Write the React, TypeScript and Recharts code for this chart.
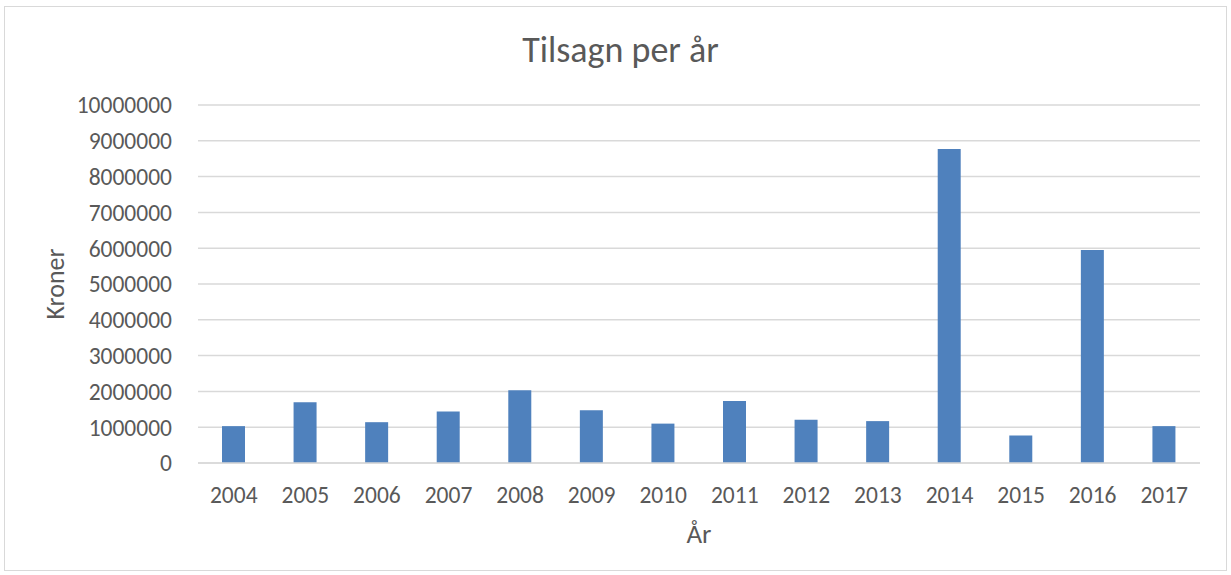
import { BarChart, Bar, XAxis, YAxis, CartesianGrid } from "recharts";

const years = [
  "2004", "2005", "2006", "2007", "2008", "2009", "2010",
  "2011", "2012", "2013", "2014", "2015", "2016", "2017",
];

const kroner = [
  1030000, 1700000, 1140000, 1440000, 2030000, 1470000, 1100000,
  1730000, 1210000, 1170000, 8770000, 770000, 5950000, 1030000,
];

const yTicks = [
  0, 1000000, 2000000, 3000000, 4000000, 5000000,
  6000000, 7000000, 8000000, 9000000, 10000000,
];

const data = years.map((year, i) => ({ year, value: kroner[i] }));

const font = "Calibri, Carlito, Lato, sans-serif";
const textColor = "#595959";

export default function App() {
  return (
    <div style={{ position: "absolute", left: 0, top: 0, width: 1231, height: 575, background: "#fff", fontFamily: font }}>
      <div
        style={{
          position: "absolute",
          left: 4,
          top: 6,
          width: 1223,
          height: 565,
          border: "1px solid #d9d9d9",
          boxSizing: "border-box",
        }}
      />
      <div
        style={{
          position: "absolute",
          left: 5,
          width: 1231,
          top: 29,
          textAlign: "center",
          fontSize: 36,
          lineHeight: 1.2,
          color: textColor,
        }}
      >
        Tilsagn per år
      </div>
      <BarChart
        width={1231}
        height={575}
        data={data}
        margin={{ top: 105, right: 31, left: 0, bottom: 0 }}
        style={{ position: "absolute", left: 0, top: 0 }}
      >
        <CartesianGrid vertical={false} stroke="#d9d9d9" strokeWidth={1.5} />
        <XAxis
          dataKey="year"
          height={112}
          axisLine={{ stroke: "#d9d9d9", strokeWidth: 1.5 }}
          tickLine={false}
          tick={{ fill: textColor, fontSize: 23.5, fontFamily: font }}
          tickMargin={17}
          label={{
            value: "År",
            position: "insideBottom",
            offset: 32,
            fill: textColor,
            fontSize: 27,
            fontFamily: font,
          }}
        />
        <YAxis
          width={198}
          domain={[0, 10000000]}
          ticks={yTicks}
          interval={0}
          axisLine={false}
          tickLine={false}
          tick={{ fill: textColor, fontSize: 23.5, fontFamily: font }}
          tickMargin={20}
          label={{
            value: "Kroner",
            angle: -90,
            position: "insideLeft",
            offset: 55,
            textAnchor: "middle",
            fill: textColor,
            fontSize: 26,
            fontFamily: font,
          }}
        />
        <Bar dataKey="value" fill="#4f81bd" barSize={23} isAnimationActive={false} />
      </BarChart>
    </div>
  );
}
